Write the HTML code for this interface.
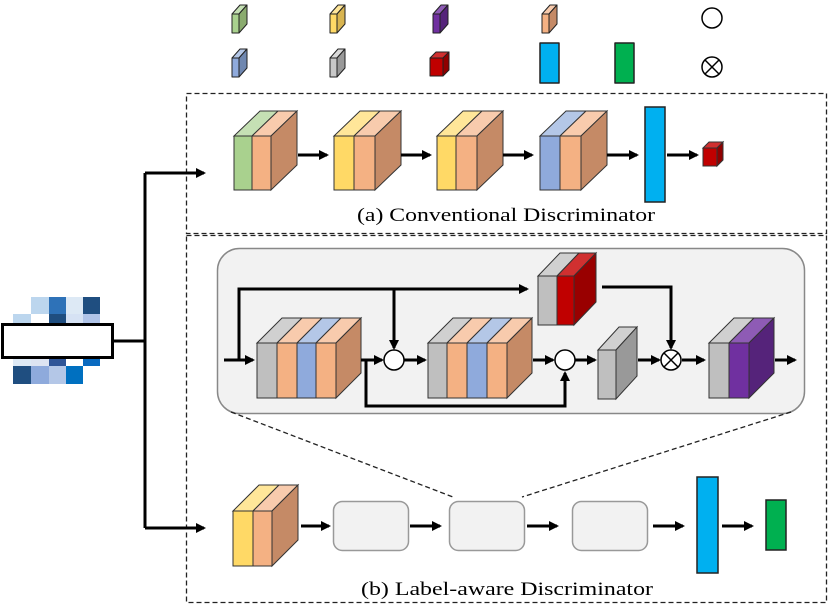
<!DOCTYPE html>
<html><head><meta charset="utf-8"><style>html,body{margin:0;padding:0;background:#fff}svg{display:block}</style></head>
<body>
<svg width="830" height="610" viewBox="0 0 830 610" xmlns="http://www.w3.org/2000/svg">
<defs>
<marker id="ah" markerWidth="10" markerHeight="10" refX="8" refY="5" orient="auto" markerUnits="userSpaceOnUse"><path d="M0,0 L10,5 L0,10 z" fill="#000"/></marker>
</defs>
<g stroke="#222" stroke-width="1" stroke-linejoin="round">
<rect x="232" y="14" width="7" height="19" fill="#a9d18e"/><polygon points="232,14 240,5 247,5 239,14" fill="#c5e0b4"/><polygon points="239,14 247,5 247,24 239,33" fill="#8aab6e"/>
<rect x="330" y="14" width="7" height="19" fill="#ffd966"/><polygon points="330,14 338,5 345,5 337,14" fill="#ffe699"/><polygon points="337,14 345,5 345,24 337,33" fill="#d8b450"/>
<rect x="433" y="14" width="7" height="19" fill="#7030a0"/><polygon points="433,14 441,5 448,5 440,14" fill="#8e5bb5"/><polygon points="440,14 448,5 448,24 440,33" fill="#55237a"/>
<rect x="542" y="14" width="7" height="19" fill="#f4b183"/><polygon points="542,14 550,5 557,5 549,14" fill="#f8cbad"/><polygon points="549,14 557,5 557,24 549,33" fill="#c58a66"/>
<rect x="232" y="58" width="7" height="19" fill="#8faadc"/><polygon points="232,58 240,49 247,49 239,58" fill="#b4c7e7"/><polygon points="239,58 247,49 247,68 239,77" fill="#6f87b0"/>
<rect x="330" y="58" width="7" height="19" fill="#c8c8c8"/><polygon points="330,58 338,49 345,49 337,58" fill="#d9d9d9"/><polygon points="337,58 345,49 345,68 337,77" fill="#999"/>
<rect x="430" y="58" width="13" height="18" fill="#c00000"/><polygon points="430,58 436,52 449,52 443,58" fill="#d03030"/><polygon points="443,58 449,52 449,70 443,76" fill="#900000"/>
<rect x="540" y="43" width="19" height="40" fill="#00b0f0" stroke-width="1.5"/>
<rect x="615" y="43" width="19" height="40" fill="#00b050" stroke-width="1.5"/>
</g>
<circle cx="712" cy="18" r="10" fill="#fff" stroke="#000" stroke-width="1.5"/>
<circle cx="712" cy="67" r="10" fill="#fff" stroke="#000" stroke-width="1.5"/>
<path d="M705,60 L719,74 M719,60 L705,74" stroke="#000" stroke-width="1.5"/>

<rect x="186.5" y="93.5" width="640" height="140" fill="none" stroke="#222" stroke-width="1.3" stroke-dasharray="5,3"/>
<rect x="186.5" y="235.5" width="640" height="367" fill="none" stroke="#222" stroke-width="1.3" stroke-dasharray="5,3"/>

<rect x="31" y="297" width="18" height="17" fill="#bcd6ee"/><rect x="49" y="297" width="17" height="17" fill="#2e72b8"/><rect x="66" y="297" width="17" height="17" fill="#dde9f5"/><rect x="83" y="297" width="17" height="17" fill="#1f4e80"/>
<rect x="13" y="314" width="18" height="10" fill="#bcd6ee"/><rect x="49" y="314" width="17" height="10" fill="#1f4e80"/><rect x="66" y="314" width="17" height="10" fill="#d6e2f4"/><rect x="83" y="314" width="17" height="10" fill="#b0c4e8"/>
<rect x="13" y="357" width="18" height="9" fill="#dde9f5"/><rect x="31" y="357" width="18" height="9" fill="#dde4f2"/><rect x="49" y="357" width="17" height="9" fill="#2f5597"/><rect x="83" y="357" width="17" height="9" fill="#0a6ac0"/>
<rect x="13" y="366" width="18" height="18" fill="#1f4e80"/><rect x="31" y="366" width="18" height="18" fill="#8eaadc"/><rect x="49" y="366" width="17" height="18" fill="#b4c7e7"/><rect x="66" y="366" width="17" height="18" fill="#0070c0"/>
<rect x="2.5" y="324.5" width="110" height="33" fill="#fff" stroke="#000" stroke-width="3"/>
<g stroke="#000" stroke-width="3" fill="none">
<path d="M113,341 H145 M145,173 V528"/>
<path d="M145,173 H204" marker-end="url(#ah)"/>
<path d="M145,528 H204" marker-end="url(#ah)"/>
</g>

<g stroke="#333" stroke-width="1">
<rect x="234" y="136" width="18" height="54" fill="#a9d18e"/><polygon points="234,136 260,111 278,111 252,136" fill="#c5e0b4"/>
<rect x="252" y="136" width="19" height="54" fill="#f4b183"/><polygon points="252,136 278,111 297,111 271,136" fill="#f8cbad"/><polygon points="271,136 297,111 297,165 271,190" fill="#c58a66"/>
<rect x="334" y="136" width="20" height="54" fill="#ffd966"/><polygon points="334,136 360,111 380,111 354,136" fill="#ffe699"/>
<rect x="354" y="136" width="21" height="54" fill="#f4b183"/><polygon points="354,136 380,111 401,111 375,136" fill="#f8cbad"/><polygon points="375,136 401,111 401,165 375,190" fill="#c58a66"/>
<rect x="437" y="136" width="19" height="54" fill="#ffd966"/><polygon points="437,136 463,111 482,111 456,136" fill="#ffe699"/>
<rect x="456" y="136" width="21" height="54" fill="#f4b183"/><polygon points="456,136 482,111 503,111 477,136" fill="#f8cbad"/><polygon points="477,136 503,111 503,165 477,190" fill="#c58a66"/>
<rect x="540" y="136" width="20" height="54" fill="#8faadc"/><polygon points="540,136 566,111 586,111 560,136" fill="#b4c7e7"/>
<rect x="560" y="136" width="21" height="54" fill="#f4b183"/><polygon points="560,136 586,111 607,111 581,136" fill="#f8cbad"/><polygon points="581,136 607,111 607,165 581,190" fill="#c58a66"/>
<rect x="645" y="107" width="20" height="95" fill="#00b0f0" stroke="#222" stroke-width="1.5"/>
<rect x="703" y="148" width="14" height="18" fill="#c00000"/><polygon points="703,148 709,142 723,142 717,148" fill="#d03030"/><polygon points="717,148 723,142 723,160 717,166" fill="#900000"/>
</g>
<g stroke="#000" stroke-width="3" fill="none">
<path d="M298,155 H327" marker-end="url(#ah)"/>
<path d="M401,155 H430" marker-end="url(#ah)"/>
<path d="M503,155 H532" marker-end="url(#ah)"/>
<path d="M607,155 H637" marker-end="url(#ah)"/>
<path d="M667,155 H697" marker-end="url(#ah)"/>
</g>
<text x="357" y="221" font-family="Liberation Serif, serif" font-size="19" textLength="298" lengthAdjust="spacingAndGlyphs">(a)  Conventional  Discriminator</text>

<rect x="217.5" y="248.5" width="587" height="165" rx="22" fill="#f2f2f2" stroke="#888" stroke-width="1.5"/>
<g stroke="#333" stroke-width="1">
<rect x="257" y="343" width="20" height="55" fill="#bfbfbf"/><polygon points="257,343 282,318 302,318 277,343" fill="#d0d0d0"/>
<rect x="277" y="343" width="20" height="55" fill="#f4b183"/><polygon points="277,343 302,318 322,318 297,343" fill="#f8cbad"/>
<rect x="297" y="343" width="19" height="55" fill="#8faadc"/><polygon points="297,343 322,318 341,318 316,343" fill="#b4c7e7"/>
<rect x="316" y="343" width="20" height="55" fill="#f4b183"/><polygon points="316,343 341,318 361,318 336,343" fill="#f8cbad"/><polygon points="336,343 361,318 361,373 336,398" fill="#c58a66"/>
<rect x="428" y="343" width="19" height="55" fill="#bfbfbf"/><polygon points="428,343 453,318 472,318 447,343" fill="#d0d0d0"/>
<rect x="447" y="343" width="20" height="55" fill="#f4b183"/><polygon points="447,343 472,318 492,318 467,343" fill="#f8cbad"/>
<rect x="467" y="343" width="20" height="55" fill="#8faadc"/><polygon points="467,343 492,318 512,318 487,343" fill="#b4c7e7"/>
<rect x="487" y="343" width="20" height="55" fill="#f4b183"/><polygon points="487,343 512,318 532,318 507,343" fill="#f8cbad"/><polygon points="507,343 532,318 532,373 507,398" fill="#c58a66"/>
<rect x="598" y="350" width="18" height="49" fill="#bfbfbf"/><polygon points="598,350 619,327 637,327 616,350" fill="#d0d0d0"/><polygon points="616,350 637,327 637,376 616,399" fill="#999"/>
<rect x="709" y="343" width="20" height="55" fill="#bfbfbf"/><polygon points="709,343 734,318 754,318 729,343" fill="#d0d0d0"/>
<rect x="729" y="343" width="20" height="55" fill="#7030a0"/><polygon points="729,343 754,318 774,318 749,343" fill="#8e5bb5"/><polygon points="749,343 774,318 774,373 749,398" fill="#55237a"/>
<rect x="538" y="276" width="19" height="49" fill="#bfbfbf"/><polygon points="538,276 560,253 579,253 557,276" fill="#d0d0d0"/>
<rect x="557" y="276" width="17" height="49" fill="#c00000"/><polygon points="557,276 579,253 596,253 574,276" fill="#d03030"/><polygon points="574,276 596,253 596,302 574,325" fill="#990000"/>
</g>
<circle cx="394" cy="360" r="10" fill="#fff" stroke="#000" stroke-width="1.5"/>
<circle cx="565" cy="360" r="10" fill="#fff" stroke="#000" stroke-width="1.5"/>
<circle cx="671" cy="360" r="10" fill="#fff" stroke="#000" stroke-width="1.5"/>
<path d="M664,353 L678,367 M678,353 L664,367" stroke="#000" stroke-width="1.5"/>
<g stroke="#000" stroke-width="3" fill="none">
<path d="M224,360 H253" marker-end="url(#ah)"/>
<path d="M239,360 V289 H527" marker-end="url(#ah)"/>
<path d="M394,289 V348" marker-end="url(#ah)"/>
<path d="M361,360 H382" marker-end="url(#ah)"/>
<path d="M366,360 V406 H565 V373" marker-end="url(#ah)"/>
<path d="M404,360 H425" marker-end="url(#ah)"/>
<path d="M533,360 H553" marker-end="url(#ah)"/>
<path d="M575,360 H595" marker-end="url(#ah)"/>
<path d="M638,360 H659" marker-end="url(#ah)"/>
<path d="M602,287 H671 V348" marker-end="url(#ah)"/>
<path d="M682,360 H704" marker-end="url(#ah)"/>
<path d="M775,360 H795" marker-end="url(#ah)"/>
</g>
<path d="M231,412 L453,497 M791,412 L522,497" stroke="#222" stroke-width="1.3" stroke-dasharray="5,3" fill="none"/>

<g stroke="#333" stroke-width="1">
<rect x="233" y="511" width="20" height="55" fill="#ffd966"/><polygon points="233,511 259,485 279,485 253,511" fill="#ffe699"/>
<rect x="253" y="511" width="19" height="55" fill="#f4b183"/><polygon points="253,511 279,485 298,485 272,511" fill="#f8cbad"/><polygon points="272,511 298,485 298,540 272,566" fill="#c58a66"/>
</g>
<rect x="333.5" y="501.5" width="75" height="49" rx="9" fill="#f2f2f2" stroke="#999" stroke-width="1.5"/>
<rect x="449.5" y="501.5" width="75" height="49" rx="9" fill="#f2f2f2" stroke="#999" stroke-width="1.5"/>
<rect x="572.5" y="501.5" width="75" height="49" rx="9" fill="#f2f2f2" stroke="#999" stroke-width="1.5"/>
<rect x="697" y="477" width="21" height="96" fill="#00b0f0" stroke="#222" stroke-width="1.5"/>
<rect x="766" y="500" width="20" height="50" fill="#00b050" stroke="#222" stroke-width="1.5"/>
<g stroke="#000" stroke-width="3" fill="none">
<path d="M301,526 H329" marker-end="url(#ah)"/>
<path d="M410,526 H440" marker-end="url(#ah)"/>
<path d="M527,526 H557" marker-end="url(#ah)"/>
<path d="M653,526 H683" marker-end="url(#ah)"/>
<path d="M722,526 H752" marker-end="url(#ah)"/>
</g>
<text x="361" y="595" font-family="Liberation Serif, serif" font-size="19" textLength="292" lengthAdjust="spacingAndGlyphs">(b)  Label-aware  Discriminator</text>
</svg>
</body></html>
